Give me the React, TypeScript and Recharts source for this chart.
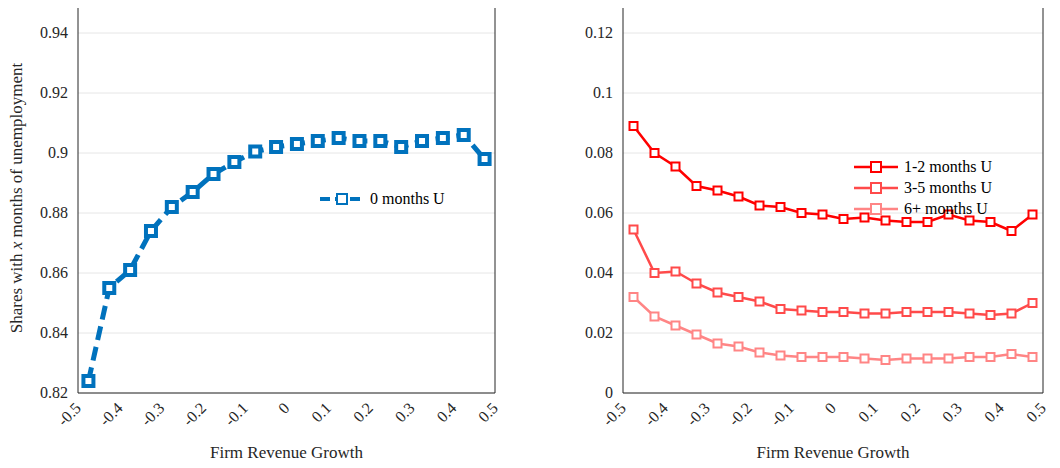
import { LineChart, Line, XAxis, YAxis, CartesianGrid } from 'recharts'

const xs = [-0.475, -0.425, -0.375, -0.325, -0.275, -0.225, -0.175, -0.125, -0.075, -0.025, 0.025, 0.075, 0.125, 0.175, 0.225, 0.275, 0.325, 0.375, 0.425, 0.475]
const u0 = [0.824, 0.855, 0.861, 0.874, 0.882, 0.887, 0.893, 0.897, 0.9005, 0.902, 0.903, 0.904, 0.905, 0.904, 0.904, 0.902, 0.904, 0.905, 0.906, 0.898]
const u12 = [0.089, 0.08, 0.0755, 0.069, 0.0675, 0.0655, 0.0625, 0.062, 0.06, 0.0595, 0.058, 0.0585, 0.0575, 0.057, 0.057, 0.0595, 0.0575, 0.057, 0.054, 0.0595]
const u35 = [0.0545, 0.04, 0.0405, 0.0365, 0.0335, 0.032, 0.0305, 0.028, 0.0275, 0.027, 0.027, 0.0265, 0.0265, 0.027, 0.027, 0.027, 0.0265, 0.026, 0.0265, 0.03]
const u6 = [0.032, 0.0255, 0.0225, 0.0195, 0.0165, 0.0155, 0.0135, 0.0125, 0.012, 0.012, 0.012, 0.0115, 0.011, 0.0115, 0.0115, 0.0115, 0.012, 0.012, 0.013, 0.012]
const xTicks = [-0.5, -0.4, -0.3, -0.2, -0.1, 0, 0.1, 0.2, 0.3, 0.4, 0.5]
const leftTicks = [0.82, 0.84, 0.86, 0.88, 0.9, 0.92, 0.94]
const rightTicks = [0, 0.02, 0.04, 0.06, 0.08, 0.1, 0.12]

const FONT = "'Liberation Serif', serif"
const BLUE = '#0072BD'
const RED1 = '#FF0000'
const RED2 = '#FF4A4A'
const RED3 = '#FF8585'

const leftData = xs.map((x, i) => ({ x, u0: u0[i] }))
const rightData = xs.map((x, i) => ({ x, u12: u12[i], u35: u35[i], u6: u6[i] }))

function fmt(v: number) {
  return v === 0 ? '0' : String(v)
}

const SquareDot = (color: string, size: number, sw: number) => (props: any) => {
  const { cx, cy } = props
  if (cx == null || cy == null) return null
  return <rect key={props.index} x={cx - size / 2} y={cy - size / 2} width={size} height={size} fill="white" stroke={color} strokeWidth={sw} />
}

const XTick = (props: any) => {
  const { x, y, payload } = props
  return (
    <text x={x + 4} y={y + 8} textAnchor="end" transform={`rotate(-45 ${x + 4} ${y + 8})`} fontFamily={FONT} fontSize={16} fill="#262626">
      {fmt(payload.value)}
    </text>
  )
}

const YTick = (props: any) => {
  const { x, y, payload } = props
  return (
    <text x={x - 2} y={y + 5} textAnchor="end" fontFamily={FONT} fontSize={16} fill="#262626">
      {fmt(payload.value)}
    </text>
  )
}

const XLabel = (p: any) => {
  const vb = p.viewBox
  return (
    <text x={vb.x + vb.width / 2} y={vb.y + 65} textAnchor="middle" fontFamily={FONT} fontSize={17} fill="#262626">
      Firm Revenue Growth
    </text>
  )
}

function LegendBox({ items, left, top }: { items: { label: string; color: string; dash?: string; sw: number }[]; left: number; top: number }) {
  return (
    <div style={{ position: 'absolute', left, top, fontFamily: FONT, fontSize: 16, color: '#000', lineHeight: '21px' }}>
      {items.map((it) => (
        <div key={it.label} style={{ display: 'flex', alignItems: 'center' }}>
          <svg width={48} height={14}>
            <line x1={2} y1={7} x2={46} y2={7} stroke={it.color} strokeWidth={it.sw} strokeDasharray={it.dash} />
            <rect x={19} y={2} width={10} height={10} fill="white" stroke={it.color} strokeWidth={2} />
          </svg>
          <span style={{ marginLeft: 4 }}>{it.label}</span>
        </div>
      ))}
    </div>
  )
}

const axisLine = { stroke: '#262626' }
// plot frame top edge
const frameTop = { position: 'absolute' as const, top: 3, height: 0, borderTop: '1px solid #262626' }

export default function App() {
  return (
    <div style={{ position: 'relative', width: 1060, height: 468, background: 'white', margin: -8 }}>
      <div style={{ position: 'absolute', left: 0, top: 0 }}>
        <LineChart width={530} height={468} data={leftData} margin={{ top: 3, right: 34, left: 8, bottom: 0 }}>
          <CartesianGrid vertical={false} stroke="#e6e6e6" />
          <XAxis dataKey="x" type="number" domain={[-0.5, 0.5]} ticks={xTicks} tick={<XTick />} tickLine={false} axisLine={axisLine} height={75} label={XLabel} />
          <YAxis domain={[0.82, 0.95]} ticks={leftTicks} tick={<YTick />} tickLine={false} axisLine={axisLine} width={70}
            label={(p: any) => {
              const vb = p.viewBox
              const cx = vb.x + 14
              const cy = vb.y + vb.height / 2
              return (
                <text x={cx} y={cy} transform={`rotate(-90 ${cx} ${cy})`} textAnchor="middle" fontFamily={FONT} fontSize={17} fill="#262626">
                  Shares with <tspan fontStyle="italic">x</tspan> months of unemployment
                </text>
              )
            }} />
          <YAxis yAxisId="right" orientation="right" domain={[0.82, 0.95]} tick={false} tickLine={false} axisLine={axisLine} width={1} />
          <Line dataKey="u0" stroke={BLUE} strokeWidth={5} strokeDasharray="14 7" dot={SquareDot(BLUE, 10, 4)} isAnimationActive={false} />
        </LineChart>
        <div style={{ ...frameTop, left: 78, width: 418 }} />
        <LegendBox left={318} top={188} items={[{ label: '0 months U', color: BLUE, dash: '10 5', sw: 4 }]} />
      </div>
      <div style={{ position: 'absolute', left: 530, top: 0 }}>
        <LineChart width={530} height={468} data={rightData} margin={{ top: 3, right: 16, left: 23, bottom: 0 }}>
          <CartesianGrid vertical={false} stroke="#e6e6e6" />
          <XAxis dataKey="x" type="number" domain={[-0.5, 0.5]} ticks={xTicks} tick={<XTick />} tickLine={false} axisLine={axisLine} height={75} label={XLabel} />
          <YAxis domain={[0, 0.13]} ticks={rightTicks} tick={<YTick />} tickLine={false} axisLine={axisLine} width={70} />
          <YAxis yAxisId="right" orientation="right" domain={[0, 0.13]} tick={false} tickLine={false} axisLine={axisLine} width={1} />
          <Line dataKey="u12" stroke={RED1} strokeWidth={2.5} dot={SquareDot(RED1, 8, 2)} isAnimationActive={false} />
          <Line dataKey="u35" stroke={RED2} strokeWidth={2.5} dot={SquareDot(RED2, 8, 2)} isAnimationActive={false} />
          <Line dataKey="u6" stroke={RED3} strokeWidth={2.5} dot={SquareDot(RED3, 8, 2)} isAnimationActive={false} />
        </LineChart>
        <div style={{ ...frameTop, left: 93, width: 421 }} />
        <LegendBox left={322} top={156} items={[
          { label: '1-2 months U', color: RED1, sw: 2.5 },
          { label: '3-5 months U', color: RED2, sw: 2.5 },
          { label: '6+ months U', color: RED3, sw: 2.5 },
        ]} />
      </div>
    </div>
  )
}
